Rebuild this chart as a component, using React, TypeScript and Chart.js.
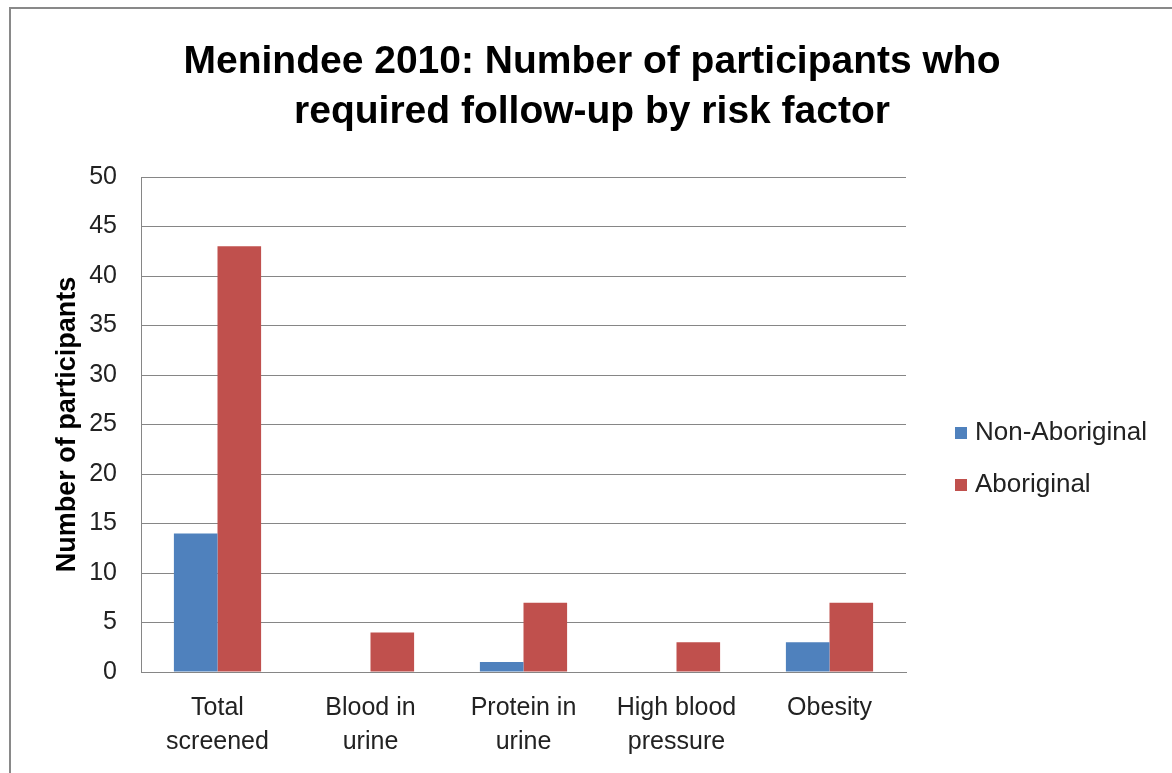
import React, { useEffect, useRef } from "react";
import { Chart, registerables } from "chart.js";

Chart.register(...registerables);

const categories: string[][] = [
  ["Total", "screened"],
  ["Blood in", "urine"],
  ["Protein in", "urine"],
  ["High blood", "pressure"],
  ["Obesity"],
];
const nonAboriginal: number[] = [14, 0, 1, 0, 3];
const aboriginal: number[] = [43, 4, 7, 3, 7];
const seriesNames: string[] = ["Non-Aboriginal", "Aboriginal"];
const seriesColors: string[] = ["#4F81BD", "#C0504D"];
const titleLines: string[] = [
  "Menindee 2010: Number of participants who",
  "required follow-up by risk factor",
];
const yAxisTitle = "Number of participants";
const yMin = 0;
const yMax = 50;
const yStep = 5;

const FONT = "'Liberation Sans', Arial, Helvetica, sans-serif";
const GRID = "#868686";
const TEXT = "#222222";

const framePlugin = {
  id: "frame",
  beforeDraw(chart: any) {
    const ctx = chart.ctx;
    ctx.save();
    ctx.fillStyle = "#ffffff";
    ctx.fillRect(0, 0, chart.width, chart.height);
    ctx.strokeStyle = "#898989";
    ctx.lineWidth = 2;
    ctx.strokeRect(10, 8, chart.width + 40, chart.height + 40);
    ctx.restore();
  },
};

const titlePlugin = {
  id: "customTitle",
  afterDraw(chart: any) {
    const ctx = chart.ctx;
    ctx.save();
    ctx.font = `bold 39px ${FONT}`;
    ctx.fillStyle = "#000000";
    ctx.textAlign = "center";
    ctx.textBaseline = "alphabetic";
    const cx = chart.width / 2 + 6;
    const baselines = [73, 123];
    titleLines.forEach((line, i) => ctx.fillText(line, cx, baselines[i]));
    ctx.restore();
  },
};

const legendPlugin = {
  id: "customLegend",
  afterDraw(chart: any) {
    const ctx = chart.ctx;
    ctx.save();
    ctx.font = `26px ${FONT}`;
    ctx.textBaseline = "middle";
    ctx.textAlign = "left";
    const x0 = chart.chartArea.right + 49;
    const y0 = 433;
    const spacing = 52;
    chart.data.datasets.forEach((ds: any, i: number) => {
      const y = y0 + i * spacing;
      ctx.fillStyle = ds.backgroundColor;
      ctx.fillRect(x0, y - 6, 12, 12);
      ctx.fillStyle = TEXT;
      ctx.fillText(ds.label, x0 + 20, y);
    });
    ctx.restore();
  },
};

export default function App() {
  const ref = useRef<HTMLCanvasElement | null>(null);

  useEffect(() => {
    if (!ref.current) return;
    const chart = new Chart(ref.current, {
      type: "bar",
      data: {
        labels: categories,
        datasets: [
          {
            label: seriesNames[0],
            data: nonAboriginal,
            backgroundColor: seriesColors[0],
            categoryPercentage: 0.57,
            barPercentage: 1.0,
          },
          {
            label: seriesNames[1],
            data: aboriginal,
            backgroundColor: seriesColors[1],
            categoryPercentage: 0.57,
            barPercentage: 1.0,
          },
        ],
      },
      options: {
        responsive: false,
        animation: false,
        devicePixelRatio: 1,
        layout: { padding: { left: 0, right: 266, top: 177, bottom: 0 } },
        plugins: {
          legend: { display: false },
          tooltip: { enabled: false },
          title: { display: false },
        },
        scales: {
          x: {
            grid: { display: false, drawTicks: false },
            border: { display: true, color: GRID, width: 1 },
            ticks: {
              color: TEXT,
              font: { family: FONT, size: 25, lineHeight: 1.36 },
              padding: 19,
              maxRotation: 0,
              autoSkip: false,
            },
            afterFit: (scale: any) => {
              scale.height = 101;
            },
          },
          y: {
            min: yMin,
            max: yMax,
            grid: { color: GRID, lineWidth: 1, drawTicks: false },
            border: { display: true, color: GRID, width: 1 },
            ticks: {
              stepSize: yStep,
              color: TEXT,
              font: { family: FONT, size: 25 },
              padding: 24,
            },
            title: {
              display: true,
              text: yAxisTitle,
              color: "#000000",
              font: { family: FONT, size: 27, weight: "bold", lineHeight: 1.2 },
              padding: { top: 51, bottom: 0 },
            },
            afterFit: (scale: any) => {
              scale.width = 141;
            },
          },
        },
      },
      plugins: [framePlugin, titlePlugin, legendPlugin],
    });
    return () => chart.destroy();
  }, []);

  return (
    <div style={{ position: "absolute", left: 0, top: 0, width: 1172, height: 773 }}>
      <canvas ref={ref} width={1172} height={773} style={{ width: 1172, height: 773 }} />
    </div>
  );
}
